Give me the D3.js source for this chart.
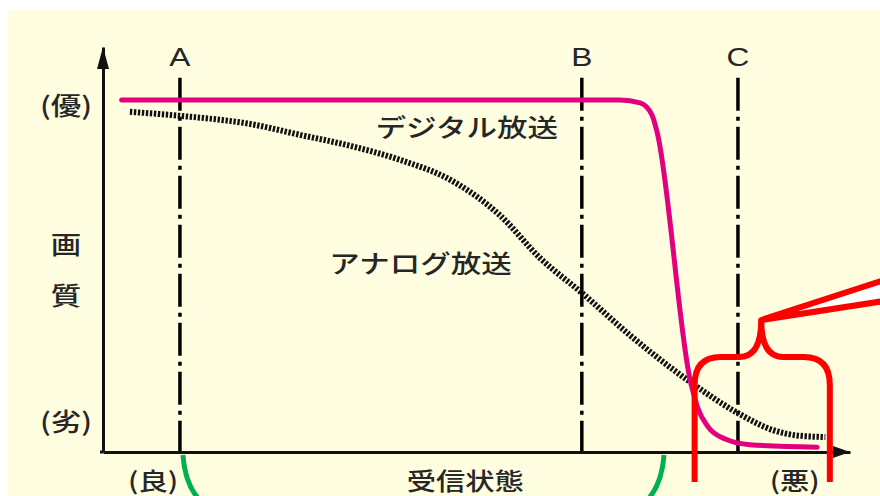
<!DOCTYPE html>
<html>
<head>
<meta charset="utf-8">
<script src="https://cdn.jsdelivr.net/npm/d3@7"></script>
<style>
  body { margin: 0; background: #ffffff; }
  text { fill: #262626; font-family: "Noto Sans CJK JP", "Noto Sans", sans-serif; font-weight: 500; }
</style>
</head>
<body>
<div id="chart"></div>
<script>
// data (x = reception state 0..100, y = picture quality 0..100)
const digitalX = [2.5, 69.2, 71.9, 73.5, 74.2, 78.6, 79.6, 81.0, 83.3, 86.6, 95.6];
const digitalY = [86.9, 86.9, 86.2, 83.2, 78.8, 17.8, 11.0, 6.2, 3.2, 1.8, 1.2];

const analogX = [3.6, 10.3, 19.7, 26.4, 33.1, 39.8, 46.5, 53.1, 58.5, 64.1, 70.5, 78.6, 85.0, 89.7, 93.3, 96.7];
const analogY = [84.0, 83.0, 81.0, 78.3, 75.6, 72.1, 67.2, 58.5, 47.9, 39.3, 28.9, 17.3, 9.6, 5.4, 4.0, 3.7];

const guideNames = ["A", "B", "C"];
const guideValues = [10.3, 64.1, 85.0];

const yTickLabels = ["(優)", "画", "質", "(劣)"];
const yTickValues = [85.9, 51.6, 39.0, 7.9];

const xTickLabels = ["(良)", "受信状態", "(悪)"];
const xTickValues = [6.7, 48.5, 92.6];

const seriesNames = ["デジタル放送", "アナログ放送"];
const seriesLabelAt = [[48.7, 80.5], [42.5, 46.9]];

// brace spans from where the digital line falls to the far end
const braceRange = [79.2, 97.3];
const arcRange = [10.7, 75.1];

// Set dimensions and margins
const width = 880, height = 496;
const margin = {top: 47, right: 30, bottom: 44, left: 103};
const stretch = 1.22;

const svg = d3.select("#chart")
  .append("svg")
  .attr("width", width)
  .attr("height", height);

// pale yellow card
svg.append("rect")
  .attr("x", 8).attr("y", 10)
  .attr("width", width - 8).attr("height", height - 10)
  .attr("fill", "#fefde0");

const x = d3.scaleLinear().domain([0, 100]).range([margin.left, width - margin.right]);
const y = d3.scaleLinear().domain([0, 100]).range([height - margin.bottom, margin.top]);

/* guide lines A, B, C */
svg.selectAll(".guide")
  .data(guideValues)
  .enter()
  .append("line")
    .attr("class", "guide")
    .attr("x1", d => x(d)).attr("x2", d => x(d))
    .attr("y1", y(92.4)).attr("y2", y(0))
    .attr("stroke", "#000")
    .attr("stroke-width", 3.5)
    .attr("stroke-dasharray", "33,6,4,6");

svg.selectAll(".guide-label")
  .data(guideNames)
  .enter()
  .append("text")
    .attr("class", "guide-label")
    .attr("transform", (d, i) => `translate(${x(guideValues[i])},${y(97.6)}) scale(${stretch},1)`)
    .attr("text-anchor", "middle")
    .attr("dominant-baseline", "central")
    .style("font-family", "'Liberation Sans', Arial, sans-serif")
    .style("font-weight", "normal")
    .style("font-size", "26px")
    .text(d => d);

/* curves */
const line = d3.line()
  .x(d => x(d[0]))
  .y(d => y(d[1]))
  .curve(d3.curveMonotoneX);

svg.append("path")
  .datum(d3.zip(analogX, analogY))
  .attr("fill", "none")
  .attr("stroke", "#111")
  .attr("stroke-width", 6)
  .attr("stroke-dasharray", "2.4,1.6")
  .attr("d", line);

svg.append("path")
  .datum(d3.zip(digitalX, digitalY))
  .attr("fill", "none")
  .attr("stroke", "#e2007f")
  .attr("stroke-width", 5)
  .attr("stroke-linecap", "round")
  .attr("d", line);

/* axes with arrows */
svg.append("g")
  .attr("transform", `translate(0,${y(0)})`)
  .call(d3.axisBottom(x).tickValues([]).tickSizeOuter(0))
  .call(g => g.select(".domain").attr("stroke", "#111").attr("stroke-width", 3));

svg.append("g")
  .attr("transform", `translate(${x(0)},0)`)
  .call(d3.axisLeft(y).tickValues([]).tickSizeOuter(0))
  .call(g => g.select(".domain").attr("stroke", "#111").attr("stroke-width", 3));

// extend x axis a little past the y axis corner
svg.append("line")
  .attr("x1", x(0) - 3).attr("x2", x(0))
  .attr("y1", y(0)).attr("y2", y(0))
  .attr("stroke", "#111").attr("stroke-width", 3);

svg.append("path")
  .attr("d", `M${x(100)},${y(0)} l-17,-6 l0,12 Z`)
  .attr("fill", "#111");
svg.append("path")
  .attr("d", `M${x(0)},${y(100)} l-6,22 l12,0 Z`)
  .attr("fill", "#111");

/* axis labels */
svg.selectAll(".ylab")
  .data(yTickLabels)
  .enter()
  .append("text")
    .attr("class", "ylab")
    .attr("transform", (d, i) => `translate(66,${y(yTickValues[i])}) scale(${stretch},1)`)
    .attr("text-anchor", "middle")
    .attr("dominant-baseline", "central")
    .style("font-size", "25px")
    .text(d => d);

svg.selectAll(".xlab")
  .data(xTickLabels)
  .enter()
  .append("text")
    .attr("class", "xlab")
    .attr("transform", (d, i) => `translate(${x(xTickValues[i])},${y(0) + 28}) scale(${stretch},1)`)
    .attr("text-anchor", "middle")
    .attr("dominant-baseline", "central")
    .style("font-size", "24px")
    .text(d => d);

svg.selectAll(".series-label")
  .data(seriesNames)
  .enter()
  .append("text")
    .attr("class", "series-label")
    .attr("transform", (d, i) => `translate(${x(seriesLabelAt[i][0])},${y(seriesLabelAt[i][1])}) scale(${stretch},1)`)
    .attr("text-anchor", "middle")
    .attr("dominant-baseline", "central")
    .style("font-size", "25px")
    .text(d => d);

/* green arc under the good range */
const gx0 = x(arcRange[0]), gx1 = x(arcRange[1]), gy = y(0) + 3;
svg.append("path")
  .attr("d", `M${gx0},${gy} C${gx0 + 2},${gy + 28} ${gx0 + 12},${gy + 48} ${gx0 + 35},${gy + 58}
              L${gx1 - 35},${gy + 58} C${gx1 - 12},${gy + 48} ${gx1 - 2},${gy + 28} ${gx1},${gy}`)
  .attr("fill", "none")
  .attr("stroke", "#00b050")
  .attr("stroke-width", 5);

/* red brace and pointer */
const bx0 = x(braceRange[0]), bx1 = x(braceRange[1]);
const bm = (bx0 + bx1) / 2 - 1;
const by = y(0) + 30, bTop = 357, bPeak = 320;
svg.append("path")
  .attr("d", `M${bx0},${by} L${bx0},${bTop + 28} Q${bx0},${bTop} ${bx0 + 26},${bTop}
              L${bm - 22},${bTop} Q${bm},${bTop} ${bm},${bPeak}
              Q${bm},${bTop} ${bm + 22},${bTop} L${bx1 - 26},${bTop}
              Q${bx1},${bTop} ${bx1},${bTop + 28} L${bx1},${by}`)
  .attr("fill", "none")
  .attr("stroke", "#ff0000")
  .attr("stroke-width", 6);

svg.append("path")
  .attr("d", `M${bm},${bPeak} L${width + 4},${bPeak - 40} L${width + 4},${bPeak - 19} Z`)
  .attr("fill", "#ffffff")
  .attr("stroke", "#ff0000")
  .attr("stroke-width", 6)
  .attr("stroke-linejoin", "round");
</script>
</body>
</html>
